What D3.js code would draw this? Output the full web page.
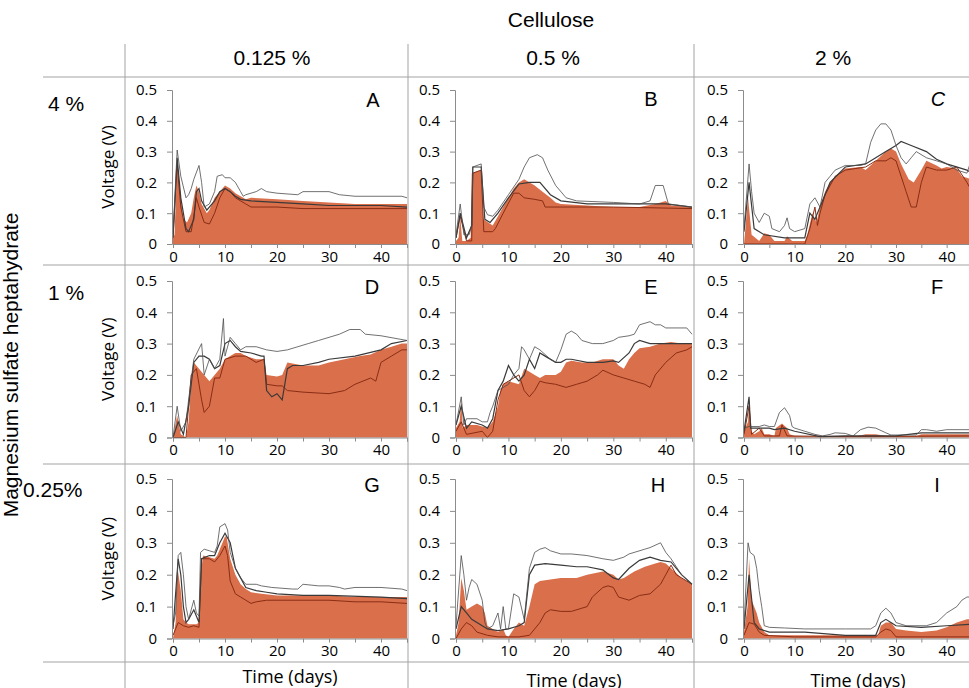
<!DOCTYPE html>
<html>
<head>
<meta charset="utf-8">
<script src="https://cdn.jsdelivr.net/npm/d3@7"></script>
<style>
  body { margin: 0; background: #fff; }
  svg { display: block; }
</style>
</head>
<body>
<svg id="chart" width="969" height="688"></svg>
<script>
// column / row headers
var colLabels = ['0.125 %', '0.5 %', '2 %'];
var rowLabels = ['4 %', '1 %', '0.25%'];
var panelNames = ['A', 'B', 'C', 'D', 'E', 'F', 'G', 'H', 'I'];
var yTicks = [0, 0.1, 0.2, 0.3, 0.4, 0.5];
var xTicks = [0, 10, 20, 30, 40];

// each series: [day, voltage]
// A
var fillA = [[0,.02],[0.3,.03],[0.8,.27],[1.5,.15],[2,.08],[2.7,.07],[3.5,.1],[4,.15],[4.5,.19],[5,.17],[5.5,.13],[6.5,.1],[7,.11],[8,.15],[9,.17],[10,.19],[11,.18],[12,.165],[13,.155],[14,.145],[15,.15],[20,.145],[25,.14],[30,.135],[35,.13],[40,.13],[45,.13]];
var grayA = [[0,.03],[0.8,.305],[1.5,.22],[2.5,.15],[3,.16],[3.5,.18],[4,.21],[5,.255],[5.5,.2],[6,.12],[7,.13],[8,.17],[8.5,.22],[9.5,.225],[10,.215],[11,.215],[12,.2],[13,.17],[13.5,.155],[14,.16],[16,.17],[17,.18],[18,.17],[20,.165],[24,.16],[25,.17],[30,.17],[32,.16],[35,.155],[40,.155],[44,.155],[45,.15]];
var darkA = [[0,.02],[0.8,.28],[1.5,.15],[2.5,.05],[3,.04],[4,.08],[4.5,.17],[5,.18],[5.5,.14],[6.5,.11],[8,.14],[9,.17],[10,.18],[11,.17],[12,.155],[13,.145],[15,.14],[20,.135],[25,.13],[30,.125],[40,.125],[45,.12]];
var brownA = [[0,.02],[0.8,.26],[1.5,.12],[2.5,.04],[3.5,.04],[4,.09],[4.5,.15],[5,.12],[6,.07],[7,.065],[8,.1],[9,.15],[10,.18],[11,.17],[12,.15],[13,.14],[14,.13],[15,.12],[20,.12],[25,.115],[30,.115],[45,.115]];
// B
var fillB = [[0,.01],[0.5,.02],[0.8,.09],[1.2,.01],[2,.01],[2.8,.02],[3,.23],[4.8,.24],[5.2,.08],[7,.06],[8,.09],[10,.15],[11,.18],[12,.2],[13,.21],[15,.19],[16.5,.17],[18,.15],[19,.135],[20,.13],[25,.125],[30,.12],[35,.12],[38,.13],[40,.14],[41,.125],[45,.12]];
var grayB = [[0,.03],[0.8,.13],[1.5,.03],[2.5,.03],[3,.06],[3.2,.25],[4.8,.26],[5.3,.12],[6,.095],[7,.09],[8,.11],[10,.16],[12,.21],[13,.25],[14,.28],[15.5,.29],[16.5,.28],[17.5,.24],[19,.19],[21,.15],[23,.14],[30,.135],[35,.13],[37,.14],[38,.19],[39.5,.19],[40.5,.13],[45,.12]];
var darkB = [[0,.02],[0.8,.1],[2,.02],[3,.06],[3.2,.25],[4.8,.25],[5.5,.08],[6.5,.07],[8,.1],[10,.15],[12,.195],[14,.2],[16,.2],[18,.16],[20,.14],[25,.13],[30,.13],[40,.13],[45,.12]];
var brownB = [[0,.02],[0.8,.09],[2,.01],[3,.01],[3.2,.23],[4.8,.24],[5.3,.04],[7,.04],[7.5,.05],[9,.1],[11,.165],[12,.165],[13,.15],[15,.145],[16.5,.14],[17,.12],[20,.12],[25,.12],[30,.12],[45,.115]];
// C
var fillC = [[0,0],[0.8,.15],[1.5,.03],[3,.01],[4,.035],[5,.03],[6,.01],[8,.01],[8.5,.025],[9.5,.01],[12,.01],[12.5,.03],[13.5,.1],[14.3,.07],[15,.12],[16,.17],[17,.2],[18,.22],[20,.245],[23,.25],[24,.24],[26,.27],[28,.3],[29,.31],[30,.3],[31,.26],[32.5,.21],[33.5,.2],[35,.24],[36,.27],[38,.255],[39,.245],[40,.25],[42,.245],[43,.22],[45,.21]];
var grayC = [[0,.05],[1,.26],[1.5,.17],[2,.1],[3,.07],[4,.1],[5,.09],[5.5,.05],[7,.04],[8,.06],[8.5,.085],[9,.05],[10,.04],[12,.05],[13,.13],[14,.15],[15,.12],[16,.2],[17,.22],[18,.24],[20,.255],[23,.255],[24,.26],[25,.33],[26,.37],[27,.39],[28,.39],[29,.37],[30,.32],[31,.28],[32,.26],[33,.28],[34,.3],[36,.28],[38,.27],[40,.26],[42,.24],[44,.23],[45,.28]];
var darkC = [[0,.04],[1,.2],[2,.05],[4,.03],[8,.02],[12,.02],[13,.1],[14,.08],[15,.12],[17,.2],[20,.25],[24,.26],[26,.28],[28,.3],[29,.31],[30,.32],[31,.333],[33,.32],[36,.3],[38,.275],[40,.26],[44,.24],[45,.23]];
var brownC = [[0,0],[12,0],[13,.05],[14,.12],[14.5,.06],[15,.1],[16,.16],[18,.22],[20,.24],[24,.25],[26,.27],[28,.27],[29,.28],[30,.27],[31,.22],[32,.17],[33,.12],[34,.12],[35,.2],[36,.25],[38,.24],[40,.24],[42,.25],[44,.2],[45,.17]];
// D
var fillD = [[0,0],[0.8,.07],[1.5,.01],[2.5,0],[3,.05],[3.5,.18],[4,.24],[5,.22],[6,.2],[7,.18],[8,.2],[9,.22],[10,.25],[11,.26],[12,.27],[13,.27],[14,.26],[16,.25],[17.5,.25],[18,.2],[20,.195],[21,.2],[22,.24],[25,.23],[28,.23],[30,.24],[33,.25],[36,.26],[38,.265],[40,.28],[42,.29],[44,.3],[45,.3]];
var grayD = [[0,0],[0.8,.1],[1.5,.02],[2.5,.05],[3,.12],[4,.25],[5.5,.3],[6,.2],[7,.25],[8,.22],[9,.25],[9.7,.38],[10,.26],[11,.32],[12,.3],[13,.28],[14,.29],[16,.29],[18,.28],[20,.275],[22,.28],[24,.29],[26,.3],[28,.31],[30,.32],[32,.33],[34,.345],[36,.345],[37,.33],[40,.325],[45,.31]];
var darkD = [[0,0],[1,.05],[2,.01],[3,.1],[4,.24],[5,.26],[6,.26],[7,.25],[8,.22],[9,.23],[10,.3],[11,.31],[12,.29],[13,.275],[15,.27],[17,.26],[17.5,.26],[18,.15],[19,.13],[20,.14],[21,.12],[22,.22],[23,.23],[25,.23],[28,.24],[30,.25],[35,.26],[40,.28],[42,.3],[45,.31]];
var brownD = [[0,0],[2.5,0],[3.5,.2],[4.5,.22],[5.5,.12],[6,.08],[7,.1],[8,.19],[9,.19],[10,.25],[12,.26],[14,.26],[16,.24],[17.5,.25],[18,.17],[20,.165],[21,.165],[22,.15],[25,.145],[30,.14],[33,.15],[35,.17],[38,.19],[39,.18],[40,.24],[42,.26],[44,.28],[45,.28]];
// E
var fillE = [[0,.03],[0.7,.05],[1,.12],[1.3,.03],[2,.04],[4,.04],[5,.035],[6,.03],[7,.05],[8,.1],[8.5,.15],[9,.17],[10,.18],[12,.17],[13,.22],[14,.21],[15,.2],[16,.19],[17,.2],[19,.2],[20,.21],[21,.24],[22,.245],[24,.24],[26,.24],[28,.25],[30,.25],[31,.23],[32,.22],[33,.25],[34,.27],[35,.285],[37,.29],[39,.3],[41,.305],[43,.3],[45,.3]];
var grayE = [[0,.04],[1,.13],[1.5,.04],[2,.06],[4,.06],[5,.05],[6,.05],[6.5,.08],[7,.1],[8,.15],[9,.16],[10,.17],[11,.2],[12,.22],[12.5,.29],[13,.28],[14,.25],[15,.29],[16,.28],[18,.25],[19,.24],[20,.28],[21,.33],[22,.34],[23,.33],[24,.31],[26,.3],[28,.3],[30,.31],[31,.32],[33,.325],[34,.33],[35,.36],[37,.37],[38,.36],[39,.36],[40,.35],[44,.35],[45,.33]];
var darkE = [[0,.04],[1,.1],[2,.03],[3,.05],[5,.04],[6,.03],[7,.06],[8,.15],[9,.18],[10,.23],[11,.2],[12,.18],[13,.2],[14,.25],[15,.22],[16,.27],[17,.26],[19,.24],[20,.24],[21,.25],[22,.25],[25,.24],[28,.24],[30,.245],[31,.24],[33,.27],[34,.3],[35,.31],[37,.3],[40,.3],[45,.3]];
var brownE = [[0,.02],[1,.05],[2,.01],[5,.02],[6,0],[7,.02],[8,.12],[9,.17],[10,.18],[12,.2],[13,.15],[14,.13],[15,.15],[16,.18],[17,.175],[19,.17],[21,.16],[23,.17],[25,.18],[27,.2],[28,.215],[30,.2],[32,.19],[34,.18],[36,.17],[37,.16],[38,.2],[40,.24],[42,.27],[44,.28],[45,.29]];
// F
var fillF = [[0,.02],[0.8,.05],[1,.12],[1.4,.02],[2,.01],[2.5,.015],[3,.02],[3.5,.03],[4,.01],[5,.01],[6,.005],[6.3,.03],[7.5,.045],[8.5,.03],[9,.01],[10,.005],[15,.003],[20,.005],[22,.003],[24,.01],[26,.01],[28,.005],[34,.005],[35,.01],[40,.01],[45,.01]];
var grayF = [[0,.03],[1,.035],[3,.035],[4,.04],[5,.035],[6,.035],[7,.08],[8,.095],[9,.07],[9.5,.035],[10,.03],[12,.02],[14,.01],[15.5,.005],[17,.01],[18,.015],[20,.013],[21.5,.005],[23,.025],[24.5,.033],[26,.03],[28,.015],[29,.008],[34,.008],[35,.025],[36,.025],[38,.02],[40,.025],[45,.025]];
var darkF = [[0,.02],[1,.13],[1.3,.03],[3,.03],[5,.03],[6,.025],[8,.03],[10,.02],[15,.003],[20,.005],[30,.005],[35,.015],[40,.015],[45,.015]];
var brownF = [[0,.01],[1,.1],[1.5,.01],[3,.03],[4,.005],[7,.005],[7.5,.04],[8.5,.005],[20,.003],[45,.005]];
// G
var fillG = [[0,0],[0.5,.05],[0.8,.23],[1.5,.15],[2,.06],[2.5,.05],[3,.045],[4.5,.045],[5,.05],[5.3,.2],[5.8,.26],[7,.255],[8,.25],[8.5,.26],[9,.28],[10,.32],[10.3,.32],[11,.25],[12,.2],[13,.17],[14,.155],[15,.145],[17,.14],[20,.135],[25,.135],[30,.135],[35,.13],[40,.13],[45,.13]];
var grayG = [[0,.04],[0.5,.08],[1,.26],[1.5,.27],[2,.2],[2.5,.1],[3,.06],[3.5,.09],[4,.12],[4.5,.08],[5,.07],[5.3,.27],[6,.28],[7,.275],[8,.27],[8.5,.29],[9,.35],[10,.36],[10.5,.34],[11,.27],[12,.22],[13,.19],[14,.17],[16,.17],[17,.165],[19,.16],[23,.155],[24,.155],[25,.17],[28,.165],[30,.165],[32,.16],[33,.155],[35,.16],[40,.16],[44,.155],[45,.15]];
var darkG = [[0,.03],[1,.25],[1.5,.2],[2,.1],[2.5,.05],[3,.06],[4,.09],[5,.05],[5.5,.25],[7,.26],[8,.26],[9,.3],[10,.33],[11,.3],[12,.22],[13,.19],[14,.16],[16,.15],[18,.145],[20,.14],[25,.135],[30,.135],[40,.13],[45,.125]];
var brownG = [[0,.01],[1,.05],[2,.04],[3,.035],[4,.04],[5,.035],[5.5,.25],[7,.25],[8,.24],[9,.26],[10,.29],[10.5,.26],[11,.18],[12,.14],[13,.13],[14,.12],[15,.11],[16,.115],[18,.12],[20,.12],[25,.12],[30,.12],[35,.115],[40,.115],[45,.11]];
// H
var fillH = [[0,.01],[0.5,.05],[1,.19],[1.5,.15],[2,.09],[3,.1],[4,.11],[5,.1],[5.5,.08],[6,.04],[7,.03],[8,.02],[9,.03],[9.5,.01],[10,.005],[11,.03],[12,.05],[13,.04],[14,.1],[15,.17],[16,.18],[18,.185],[20,.19],[23,.19],[25,.2],[28,.21],[30,.2],[31,.185],[32,.19],[34,.21],[36,.225],[38,.235],[39,.24],[40,.235],[41,.22],[43,.19],[45,.17]];
var grayH = [[0,.04],[1,.26],[1.5,.2],[2,.12],[2.5,.16],[3,.185],[4,.17],[5,.12],[5.5,.05],[6,.03],[7,.04],[8,.08],[8.5,.03],[9,.1],[9.5,.03],[10,.03],[11,.14],[12,.13],[13,.06],[14,.22],[15,.27],[16,.28],[17,.285],[18,.275],[20,.265],[22,.265],[25,.26],[28,.25],[30,.245],[32,.255],[33,.265],[36,.28],[37,.285],[39,.3],[40,.27],[41,.25],[43,.2],[45,.17]];
var darkH = [[0,.03],[1,.1],[2,.08],[3,.06],[5,.04],[6,.03],[8,.025],[10,.03],[12,.04],[13,.05],[14,.2],[15,.23],[17,.235],[20,.23],[23,.225],[25,.225],[28,.215],[30,.19],[31,.185],[33,.22],[35,.245],[37,.255],[39,.245],[41,.24],[43,.2],[45,.17]];
var brownH = [[0,0],[1,.03],[2,.05],[3,.04],[4,.02],[6,.01],[8,.005],[12,.005],[14,.01],[16,.05],[17,.08],[18,.09],[20,.085],[22,.085],[24,.095],[25,.1],[26,.13],[28,.16],[29,.165],[30,.16],[31,.13],[33,.12],[35,.135],[37,.14],[39,.17],[40,.2],[41,.23],[42,.2],[44,.18],[45,.17]];
// I
var fillI = [[0,.02],[0.7,.1],[1,.25],[1.5,.12],[2,.1],[2.5,.08],[3,.05],[4,.02],[5,.01],[8,.01],[12,.01],[20,.01],[26.5,.01],[27,.04],[28,.05],[29,.05],[30,.03],[32,.025],[35,.02],[38,.025],[40,.035],[42,.05],[44,.06],[45,.06]];
var grayI = [[0,.04],[0.8,.3],[1.2,.27],[2,.26],[2.5,.22],[3,.15],[3.5,.1],[4,.04],[5,.035],[8,.033],[12,.03],[20,.03],[25,.03],[26,.04],[27,.08],[28,.095],[29,.08],[30,.05],[32,.04],[36,.04],[38,.05],[40,.08],[42,.1],[43,.12],[44,.13],[45,.13]];
var darkI = [[0,.03],[1,.2],[2,.05],[3,.03],[5,.02],[12,.02],[20,.01],[26,.01],[27,.05],[28,.06],[29,.05],[30,.04],[35,.035],[40,.04],[45,.045]];
var brownI = [[0,.01],[1,.05],[2,.045],[3,.02],[4,.01],[10,.005],[26,.005],[27,.02],[28,.03],[29,.025],[30,.005],[45,.005]];

var fills = [fillA, fillB, fillC, fillD, fillE, fillF, fillG, fillH, fillI];
var grays = [grayA, grayB, grayC, grayD, grayE, grayF, grayG, grayH, grayI];
var darks = [darkA, darkB, darkC, darkD, darkE, darkF, darkG, darkH, darkI];
var browns = [brownA, brownB, brownC, brownD, brownE, brownF, brownG, brownH, brownI];

// layout
var colX = [[173, 407], [456, 692], [744, 972]];
var rowY = [[244, 90], [437.5, 281], [638.5, 479]];
var letterPos = [[373,107],[651,106],[938,106],[372,294],[651,294],[937,294],[372,492],[658,492],[937,492]];

var svg = d3.select('#chart');
var gridColor = '#a3a3a3';
var axisColor = '#8c8c8c';

// frame lines
[77, 265, 464, 662].forEach(function(y) {
    svg.append('line').attr('x1', 43).attr('x2', 969).attr('y1', y).attr('y2', y)
        .attr('stroke', gridColor).attr('stroke-width', 1);
});
[125, 408, 694].forEach(function(x) {
    svg.append('line').attr('x1', x).attr('x2', x).attr('y1', 44).attr('y2', 688)
        .attr('stroke', gridColor).attr('stroke-width', 1);
});

svg.append('text').attr('x', 551).attr('y', 27).attr('text-anchor', 'middle')
    .style('font', '21px "Liberation Sans", Arial, sans-serif').text('Cellulose');

colLabels.forEach(function(t, i) {
    svg.append('text').attr('x', [272, 553, 833][i]).attr('y', 65).attr('text-anchor', 'middle')
        .style('font', '21px "Liberation Sans", Arial, sans-serif').text(t);
});
rowLabels.forEach(function(t, i) {
    svg.append('text').attr('x', [48, 48, 23][i]).attr('y', [111, 300, 497][i])
        .style('font', '21px "Liberation Sans", Arial, sans-serif').text(t);
});
svg.append('text').attr('transform', 'translate(18,365) rotate(-90)').attr('text-anchor', 'middle')
    .style('font', '21px "Liberation Sans", Arial, sans-serif').text('Magnesium sulfate heptahydrate');

var tickFont = '15px "Open Sans", sans-serif';

panelNames.forEach(function(name, i) {
    var c = i % 3, r = Math.floor(i / 3);
    var x = d3.scaleLinear().domain([0, 45]).range(colX[c]);
    var y = d3.scaleLinear().domain([0, 0.5]).range(rowY[r]);
    var g = svg.append('g');

    var area = d3.area().x(function(d) { return x(d[0]); }).y0(y(0)).y1(function(d) { return y(d[1]); });
    var line = d3.line().x(function(d) { return x(d[0]); }).y(function(d) { return y(d[1]); });

    g.append('path').datum(fills[i]).attr('d', area).attr('fill', '#d96f4b');
    g.append('path').datum(browns[i]).attr('d', line).attr('fill', 'none')
        .attr('stroke', '#8a2d14').attr('stroke-width', 1);
    g.append('path').datum(darks[i]).attr('d', line).attr('fill', 'none')
        .attr('stroke', '#3a3a3a').attr('stroke-width', 1.2);
    g.append('path').datum(grays[i]).attr('d', line).attr('fill', 'none')
        .attr('stroke', '#4d4d4d').attr('stroke-width', 0.8);

    // y axis
    var ya = g.append('g').attr('transform', 'translate(' + (colX[c][0] - 1) + ',0)')
        .call(d3.axisLeft(y).tickValues(yTicks).tickSize(5).tickPadding(10)
            .tickFormat(function(d) { return d === 0 ? '0' : d3.format('.1f')(d); }));
    // x axis
    var xa = g.append('g').attr('transform', 'translate(0,' + y(0) + ')')
        .call(d3.axisBottom(x).tickValues(d3.range(0, 46, 5)).tickSize(4).tickPadding(3)
            .tickFormat(function(d) { return xTicks.indexOf(d) >= 0 ? d : ''; }));
    [ya, xa].forEach(function(a) {
        a.select('.domain').attr('stroke', axisColor);
        a.selectAll('.tick line').attr('stroke', axisColor);
        a.selectAll('.tick text').attr('fill', '#000').style('font', tickFont);
    });

    g.append('text').attr('x', letterPos[i][0]).attr('y', letterPos[i][1]).attr('text-anchor', 'middle')
        .style('font', (name === 'C' ? 'italic ' : '') + '20px "Liberation Sans", Arial, sans-serif')
        .text(name);

    if (c === 0) {
        svg.append('text')
            .attr('transform', 'translate(114,' + ((rowY[r][0] + rowY[r][1]) / 2) + ') rotate(-90)')
            .attr('text-anchor', 'middle').style('font', '17px "Open Sans", sans-serif')
            .text('Voltage (V)');
    }
    if (r === 2) {
        svg.append('text').attr('x', (colX[c][0] + colX[c][1]) / 2).attr('y', c === 0 ? 683 : 687)
            .attr('text-anchor', 'middle').style('font', '18px "Open Sans", sans-serif')
            .text('Time (days)');
    }
});
</script>
</body>
</html>
